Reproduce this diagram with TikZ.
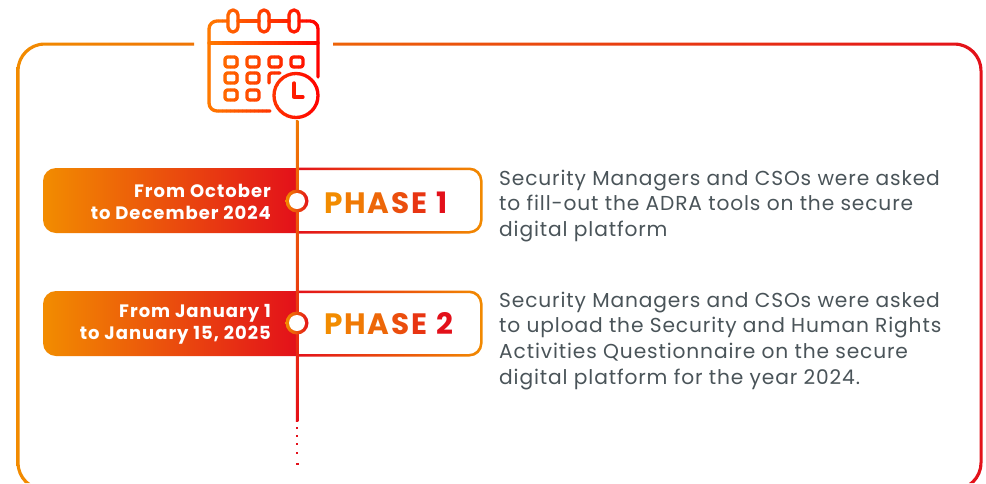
\documentclass[tikz,border=0pt]{standalone}
\usepackage{fontspec}
\setmainfont[LetterSpace=4.3]{Poppins}
\newfontfamily\labelfont[LetterSpace=5.5]{Poppins Bold}
\newfontfamily\phasefont{Poppins Bold}
\definecolor{gOrange}{HTML}{F28C00}
\definecolor{gRed}{HTML}{E3101A}
\definecolor{icOrange}{HTML}{FF7A00}
\definecolor{icRed}{HTML}{FF0000}
\definecolor{bodyText}{HTML}{4A5459}
\newcommand{\iconStrokes}{%
  \draw[rounded corners=8] (228,21) -- (209,21) -- (209,111) -- (270,111);
  \draw[rounded corners=8] (318,77) -- (318,21) -- (299,21);
  \draw (238,21) -- (259,21) (269,21) -- (289,21) (209,43) -- (318,43);
  \foreach \cx in {233,264,294} {\draw[rounded corners=5] (\cx-5,10) rectangle (\cx+5,32);}
  \foreach \cx in {231,253,275,297} {\draw[rounded corners=2.5] (\cx-6,57) rectangle (\cx+6,67);}
  \foreach \cx in {231,253} {\draw[rounded corners=2.5] (\cx-6,73) rectangle (\cx+6,83);
    \draw[rounded corners=2.5] (\cx-6,90) rectangle (\cx+6,100);}
  \draw[rounded corners=2.5] (269,83) -- (269,73) -- (280,73);
  \draw (296,95.5) circle (22);
  \draw (294,83) -- (294,97) -- (303,97);
}
\newcommand{\phaseRing}[1]{%
  \begin{scope}
    \clip (296,#1-3) rectangle (486,#1+68);
    \begin{scope}[even odd rule]
    \clip [rounded corners=13] (260,#1-0.5) rectangle (482.5,#1+65.5)
       [rounded corners=11] (260,#1+2) rectangle (480,#1+63);
    \shade[left color=gRed,right color=gOrange] (296,#1-3) rectangle (485,#1+68);
    \end{scope}
  \end{scope}
}
\newcommand{\pillShape}[1]{%
  \begin{scope}
    \clip (43,#1) rectangle (297,#1+65);
    \clip [rounded corners=13] (43,#1) rectangle (330,#1+65);
    \shade[pill] (43,#1) rectangle (297,#1+65);
  \end{scope}
}
\newcommand{\phaseWord}[1]{\textcolor{gOrange}{P}\kern1.9pt\textcolor{gOrange!85!gRed}{H}\kern1.9pt\textcolor{gOrange!70!gRed}{A}\kern1.9pt\textcolor{gOrange!50!gRed}{S}\kern1.9pt\textcolor{gOrange!30!gRed}{E}\hspace{0.25em}\kern1.9pt\textcolor{gRed}{#1}}
\tikzset{
  x=1pt,y=-1pt,
  pill/.style={left color=gOrange,right color=gRed},
  pilltext/.style={font=\labelfont\fontsize{18}{22.5}\selectfont,text=white,align=right,anchor=east,inner sep=0pt},
  phasetext/.style={font=\phasefont\fontsize{29.5}{32}\selectfont,anchor=west,inner sep=0pt},
  bodytext/.style={font=\fontsize{20.2}{25.7}\selectfont,text=bodyText,align=left,anchor=north west,inner sep=0pt},
  marker/.style={circle,draw=none,minimum size=23pt,inner sep=0pt,left color=gOrange,right color=gRed},
  markerhole/.style={circle,fill=white,minimum size=16pt,inner sep=0pt},
  iconline/.style={line width=3.3pt,line cap=round,line join=round},
}
\begin{document}
\begin{tikzpicture}
\useasboundingbox (0,0) rectangle (986,483);
\fill[white] (0,0) rectangle (986,483);
% outer frame
\begin{scope}
  \clip (0,0) rectangle (986,483);
  \begin{scope}[even odd rule]
  \clip (0,0) rectangle (986,483) (194,30) rectangle (333,60);
  \clip [rounded corners=28] (16.5,42.5) rectangle (982.5,491)
     [rounded corners=25.5] (19.5,45.5) rectangle (979.5,488);
  \shade[left color=gOrange,right color=gRed] (10,35) rectangle (990,495);
  \end{scope}
\end{scope}
% calendar icon
\foreach \i in {0,...,28} {
  \pgfmathtruncatemacro{\p}{100*\i/28}
  \pgfmathsetmacro{\xa}{206+4*\i}
  \begin{scope}
    \clip (\xa,0) rectangle (\xa+4.3,125);
    \begin{scope}[iconline,draw=icRed!\p!icOrange]
      \iconStrokes
    \end{scope}
  \end{scope}
}
% phases
\pillShape{168}
\phaseRing{168}
\pillShape{291}
\phaseRing{291}
% timeline
\coordinate (lineTop) at (295.8,120.5);
\coordinate (lineEnd) at (298.3,421);
\shade[top color=gOrange!85!gRed,bottom color=gRed!90!red] (lineTop) rectangle (lineEnd);
\foreach \yy in {428,436,444,453} {\fill[gRed] (296,\yy-1) rectangle (298,\yy+1);}
\fill[gRed] (296,462.5) rectangle (299,464.5);
% markers
\node[marker] (m1) at (297,201) {};
\node[markerhole] at (m1) {};
\node[marker] (m2) at (297,323) {};
\node[markerhole] at (m2) {};
% labels
\node[pilltext] (d1) at (271,202) {From October\\to December 2024};
\node[pilltext] (d2) at (271,324.5) {From January 1\\to January 15, 2025};
\node[phasetext] (p1) at (324,202.5) {\phaseWord{1}};
\node[phasetext] (p2) at (324,323.5) {\phaseWord{2}};
\node[bodytext] (t1) at (499,169.5) {Security Managers and CSOs were asked\\to fill-out the ADRA tools on the secure\\digital platform};
\node[bodytext] (t2) at (499,291.5) {Security Managers and CSOs were asked\\to upload the Security and Human Rights\\Activities Questionnaire on the secure\\digital platform for the year 2024.};
\end{tikzpicture}
\end{document}
